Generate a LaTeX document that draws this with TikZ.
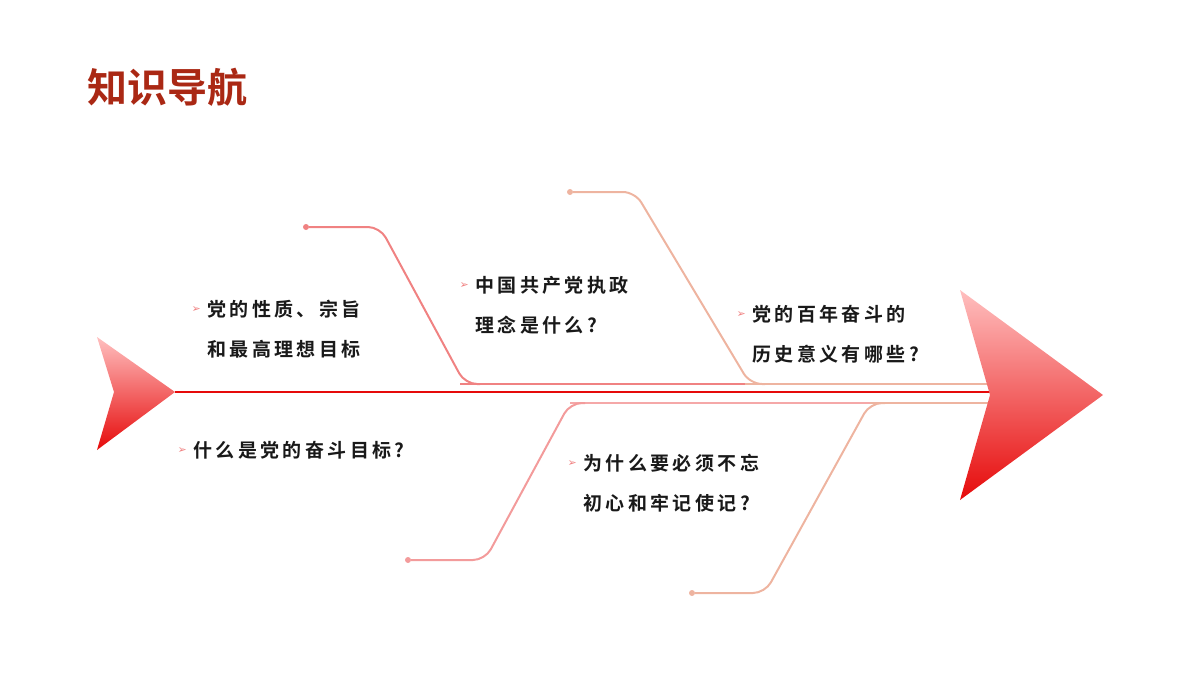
\documentclass[tikz,border=0pt]{standalone}
\usepackage{fontspec}
\setmainfont{Liberation Sans}
\newfontfamily\cjk[LetterSpace=18]{Noto Sans CJK SC Bold}
\newfontfamily\cjktitle{Noto Sans CJK SC Bold}
\newfontfamily\dingfont{DejaVu Sans}
\usetikzlibrary{positioning}

\definecolor{darkred}{RGB}{170,40,20}
\definecolor{bonepink}{RGB}{240,130,130}
\definecolor{bonepeach}{RGB}{238,180,160}
\definecolor{spinered}{RGB}{230,10,10}

\tikzset{
  item/.style={anchor=west, font=\cjk\fontsize{19}{40}\selectfont, align=left, inner sep=0pt, text=black!90},
  bullet/.style={anchor=east, font=\dingfont\fontsize{11}{11}\selectfont, text=bonepink, inner sep=0pt},
  bone/.style={line width=2pt, rounded corners=12pt},
  knob/.style={circle, fill, inner sep=0pt, minimum size=6pt}
}

\begin{document}
\begin{tikzpicture}[x=1pt,y=-1pt]
  \useasboundingbox (0,0) rectangle (1200,675);

  % title
  \node[anchor=west, text=darkred, font=\cjktitle\fontsize{40}{40}\selectfont, inner sep=0pt] (title) at (87,87) {知识导航};

  % tail and head of the fish
  \shade[top color=red!25, bottom color=spinered]
    (97,337) -- (175,392) -- (97,450) -- (114,392) -- cycle;
  \coordinate (tail) at (175,392);
  \coordinate (head) at (990,392);

  % side lines along the spine
  \draw[bonepink, line width=2pt] (460,384) -- (745,384);
  \draw[bonepeach, line width=2pt] (745,384) -- (1018,384);
  \draw[bonepink!70, line width=2pt] (570,403) -- (870,403);
  \draw[bonepeach, line width=2pt] (870,403) -- (1000,403);

  % spine
  \draw[spinered, line width=2.5pt] (tail) -- (head);

  \shade[top color=red!25, bottom color=spinered]
    (960,290) -- (1103,395) -- (960,500) -- (990,395) -- cycle;

  % upper bones
  \node[knob, bonepink] (k1) at (306,227) {};
  \draw[bone, bonepink] (k1) -- (380,227) -- (465,384) -- (480,384);
  \node[knob, bonepeach] (k2) at (570,192) {};
  \draw[bone, bonepeach] (k2) -- (635,192) -- (750,384) -- (765,384);

  % lower bones
  \node[knob, bonepink!80] (k3) at (408,560) {};
  \draw[bone, bonepink!80] (k3) -- (485,560) -- (570,403) -- (585,403);
  \node[knob, bonepeach] (k4) at (692,593) {};
  \draw[bone, bonepeach] (k4) -- (765,593) -- (870,403) -- (885,403);

  % labels
  \node[item] (t1) at (207,329) {党的性质、宗旨\\和最高理想目标};
  \node[bullet] at (201,310) {➢};
  \node[item] (t2) at (475,305) {中国共产党执政\\理念是什么?};
  \node[bullet] at (469,286) {➢};
  \node[item] (t3) at (752,334) {党的百年奋斗的\\历史意义有哪些?};
  \node[bullet] at (746,315) {➢};
  \node[item] (t4) at (193,450) {什么是党的奋斗目标?};
  \node[bullet] at (187,451) {➢};
  \node[item] (t5) at (583,483) {为什么要必须不忘\\初心和牢记使记?};
  \node[bullet] at (577,464) {➢};
\end{tikzpicture}
\end{document}
